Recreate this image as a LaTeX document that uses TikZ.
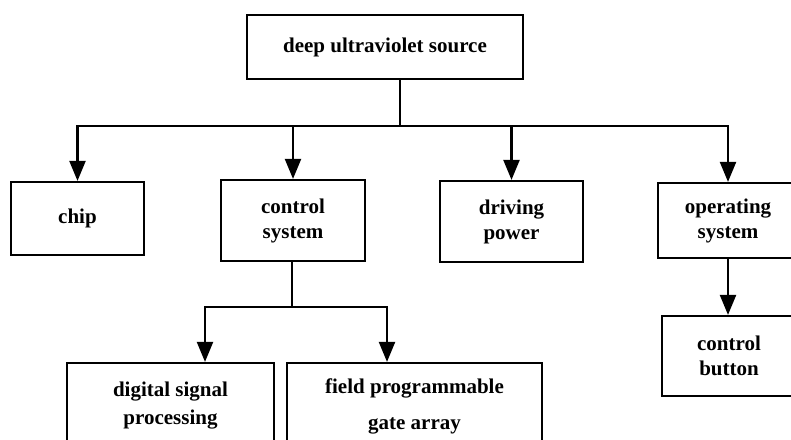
\documentclass[tikz,border=0pt]{standalone}
\usepackage{fontspec}
\setmainfont{Liberation Serif}
\usepackage{tikz}
\usetikzlibrary{arrows.meta}
\newcommand*{\busY}{126}
\newcommand*{\splitY}{307}

\tikzset{
	box/.style={draw, line width=2.2pt, align=center, inner sep=0pt,
		font=\fontsize{21}{25}\selectfont\bfseries},
	link/.style={line width=2.2pt},
	flow/.style={line width=2.2pt, -{Triangle[length=20pt,width=16pt]}}
}

\begin{document}
\begin{tikzpicture}[x=1pt,y=-1pt]
	\useasboundingbox (0,0) rectangle (791,439);
	\clip (0,0) rectangle (791,439);

	\node[box, minimum width=276pt, minimum height=64pt] (src) at (385,47) {deep ultraviolet source};
	\node[box, minimum width=133pt, minimum height=73pt] (chip) at (77.5,218.5) {chip};
	\node[box, minimum width=144pt, minimum height=81pt] (ctrl) at (293,220.5) {control\\system};
	\node[box, minimum width=143pt, minimum height=81pt] (drive) at (511.5,221.5) {driving\\power};
	\node[box, minimum width=140pt, minimum height=75pt] (ops) at (728,220.5) {operating\\system};
	\node[box, minimum width=134pt, minimum height=80pt] (btn) at (729,356) {control\\button};
	\node[box, minimum width=207pt, minimum height=86pt] (dsp) at (170.5,406) {digital signal\\[3pt]processing};
	\node[box, minimum width=255pt, minimum height=86pt] (fpga) at (414.5,406) {field programmable\\[11pt]gate array};

	\coordinate (bus) at (400,\busY);
	\coordinate (split) at (292,\splitY);
	\coordinate (dspin) at ([xshift=34.5pt]dsp.north);
	\coordinate (fpgain) at ([xshift=-27.5pt]fpga.north);

	\draw[link] (src.south -| bus) -- (bus);
	\draw[link, line cap=rect] (chip.north |- bus) -- (ops.north |- bus);
	\foreach \n in {chip,ctrl,drive,ops} {
		\draw[flow] (\n.north |- bus) -- (\n.north);
	}

	\draw[link] (ctrl.south -| split) -- (split);
	\draw[link, line cap=rect] (dspin |- split) -- (fpgain |- split);
	\draw[flow] (dspin |- split) -- (dspin);
	\draw[flow] (fpgain |- split) -- (fpgain);

	\draw[flow] (ops.south) -- (ops.south |- btn.north);
\end{tikzpicture}
\end{document}
